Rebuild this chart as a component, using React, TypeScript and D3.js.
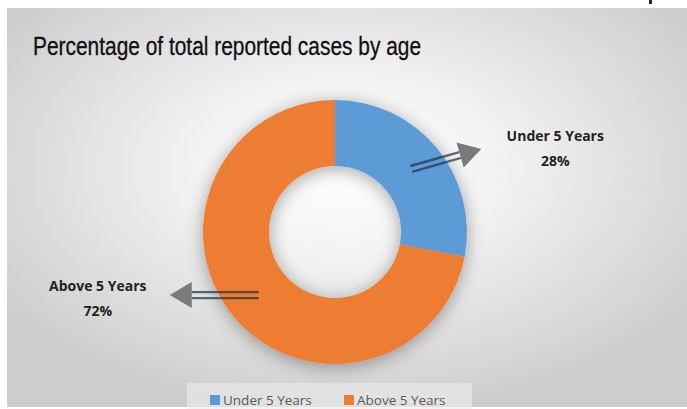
import React from 'react';
import { pie, arc, PieArcDatum } from 'd3';

const categories = ['Under 5 Years', 'Above 5 Years'];
const values = [28, 72];
const colors = ['#5B9BD5', '#ED7D31'];
const labelText = ['28%', '72%'];

const W = 687;
const H = 409;
const cx = 335;
const cy = 232;
const outerR = 132;
const innerR = 66;

type Slice = PieArcDatum<number>;

// arrow going from the slice centroid outward to the label
const Arrow = ({ from, to }: { from: [number, number]; to: [number, number] }) => {
    const dx = to[0] - from[0];
    const dy = to[1] - from[1];
    const len = Math.sqrt(dx * dx + dy * dy);
    const ux = dx / len, uy = dy / len;
    const nx = -uy, ny = ux;
    const headLen = 22;
    const headW = 13;
    const bx = to[0] - ux * headLen, by = to[1] - uy * headLen;
    const gap = 3;
    return (
        <g>
            {[-1, 1].map(s => (
                <line key={s}
                    x1={from[0] + nx * gap * s} y1={from[1] + ny * gap * s}
                    x2={bx + nx * gap * s} y2={by + ny * gap * s}
                    stroke="#1f2f45" strokeOpacity={0.7} strokeWidth={2.4} />
            ))}
            <path
                d={`M${to[0]},${to[1]} L${bx + nx * headW},${by + ny * headW} L${bx - nx * headW},${by - ny * headW} Z`}
                fill="#7a7a7a" />
        </g>
    );
};

const App = () => {
    const slices = pie<number>().sort(null)(values);
    const arcGen = arc<Slice>().innerRadius(innerR).outerRadius(outerR);
    const mid = arc<Slice>().innerRadius((innerR + outerR) / 2).outerRadius((innerR + outerR) / 2);

    // annotation layout, offsets from each slice centroid
    const tips: [number, number][] = [[70, -20], [-89, 0]];
    const labelPos: [number, number][] = [[144, -28], [-161, -4]];

    return (
        <svg width={W} height={H} style={{ position: 'absolute', left: 0, top: 0 }}>
            <defs>
                <radialGradient id="bg" cx="50%" cy="40%" r="62%">
                    <stop offset="0%" stopColor="#ffffff" />
                    <stop offset="35%" stopColor="#f3f3f3" />
                    <stop offset="100%" stopColor="#cdcdcd" />
                </radialGradient>
                <filter id="shadow" x="-30%" y="-30%" width="160%" height="160%">
                    <feGaussianBlur in="SourceAlpha" stdDeviation="9" />
                    <feOffset dx="0" dy="3" result="b" />
                    <feComponentTransfer>
                        <feFuncA type="linear" slope="0.35" />
                    </feComponentTransfer>
                    <feMerge>
                        <feMergeNode />
                        <feMergeNode in="SourceGraphic" />
                    </feMerge>
                </filter>
            </defs>
            <rect x={0} y={0} width={W} height={H} fill="#ffffff" />
            <rect x={7} y={8} width={W - 7} height={H - 10} fill="url(#bg)" />
            <rect x={649} y={0} width={3} height={4} fill="#222" />

            <text x={33} y={55} fontFamily="'Liberation Sans Narrow', 'Liberation Sans', Arial, sans-serif"
                fontSize={25} fill="#111" stroke="#111" strokeWidth={0.3}
                textLength={388} lengthAdjust="spacingAndGlyphs">
                Percentage of total reported cases by age
            </text>

            <g transform={`translate(${cx},${cy})`}>
                <g filter="url(#shadow)">
                    {slices.map((d, i) => (
                        <path key={categories[i]} d={arcGen(d) || ''} fill={colors[i]} />
                    ))}
                </g>
                {slices.map((d, i) => {
                    const c = mid.centroid(d) as [number, number];
                    const tip: [number, number] = [c[0] + tips[i][0], c[1] + tips[i][1]];
                    const lp = [c[0] + labelPos[i][0], c[1] + labelPos[i][1]];
                    return (
                        <g key={categories[i]}>
                            <Arrow from={c} to={tip} />
                            <text x={lp[0]} y={lp[1]} textAnchor="middle" fontFamily="'Open Sans', Lato, sans-serif"
                                fontWeight="bold" fontSize={14} fill="#222">
                                <tspan x={lp[0]}>{categories[i]}</tspan>
                                <tspan x={lp[0]} dy={25}>{labelText[i]}</tspan>
                            </text>
                        </g>
                    );
                })}
            </g>

            <rect x={187} y={383} width={285} height={26} fill="#ececec" fillOpacity={0.6} />
            {categories.map((c, i) => {
                const x = [210, 344][i];
                return (
                    <g key={c}>
                        <rect x={x} y={395} width={10} height={10} fill={colors[i]} />
                        <text x={x + 13} y={405} fontFamily="'Open Sans', Lato, sans-serif" fontSize={13.5}
                            fill="#595959">{c}</text>
                    </g>
                );
            })}
        </svg>
    );
};

export default App;
